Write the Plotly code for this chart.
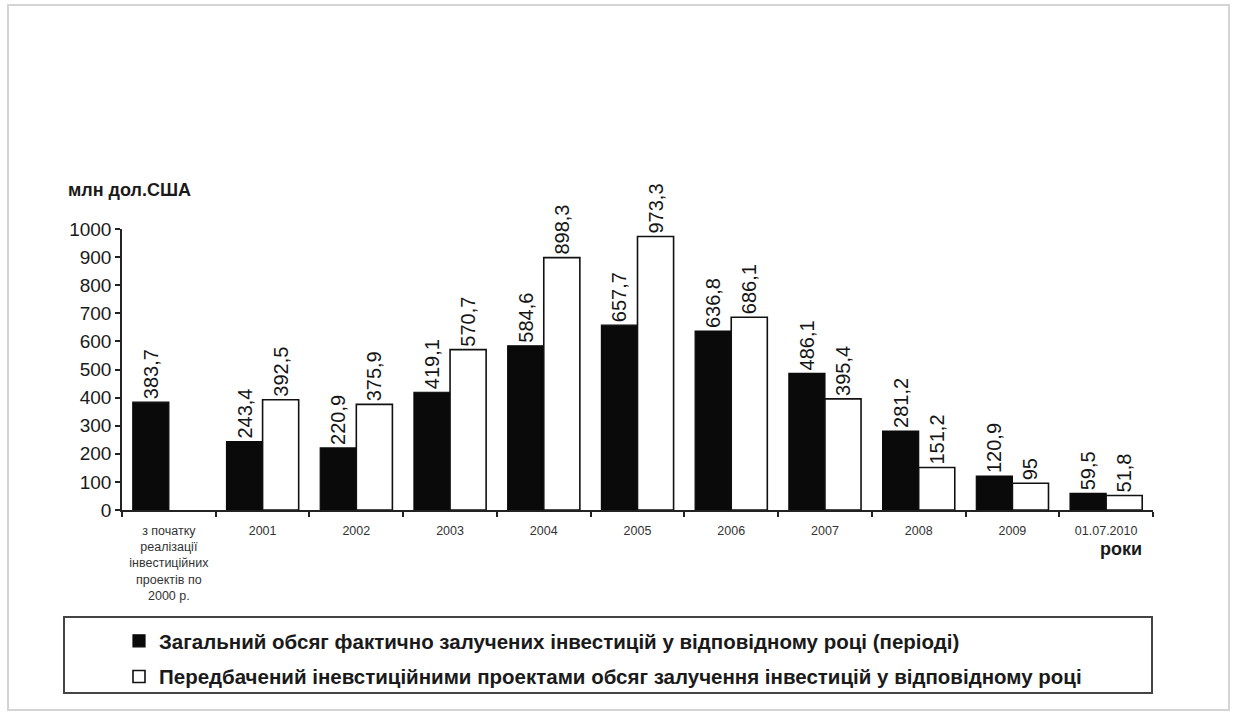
import plotly.graph_objects as go

# Categories (x axis) and the two series, mln USD
categories = [
    "з початку<br>реалізації<br>інвестиційних<br>проектів по<br>2000 р.",
    "2001", "2002", "2003", "2004", "2005", "2006", "2007", "2008", "2009", "01.07.2010",
]
actual = [383.7, 243.4, 220.9, 419.1, 584.6, 657.7, 636.8, 486.1, 281.2, 120.9, 59.5]
planned = [None, 392.5, 375.9, 570.7, 898.3, 973.3, 686.1, 395.4, 151.2, 95, 51.8]
y_ticks = list(range(0, 1001, 100))

name_actual = "Загальний обсяг фактично залучених інвестицій у відповідному році (періоді)"
name_planned = "Передбачений іневстиційними проектами обсяг залучення інвестицій у відповідному році"


def fmt(v):
    # Ukrainian decimal comma
    return "" if v is None else f"{v:g}".replace(".", ",")


W, H = 1235, 713
L, R, T, B = 122, 82, 229, 203
PW, PH = W - L - R, H - T - B


def px_x(x):
    return (x - L) / PW


def px_y(y):
    return (H - B - y) / PH


FONT = "Liberation Sans, Arial, sans-serif"

fig = go.Figure()
fig.add_trace(go.Bar(
    x=categories, y=actual, name=name_actual, legendgroup="a",
    marker=dict(color="#0a0a0a", line=dict(color="#0a0a0a", width=1.2)),
    text=[fmt(v) for v in actual], textposition="outside", textangle=-90,
    textfont=dict(family=FONT, size=20, color="#151515"),
    cliponaxis=False, constraintext="none",
))
fig.add_trace(go.Bar(
    x=categories, y=planned, name=name_planned, legendgroup="b",
    marker=dict(color="#ffffff", line=dict(color="#111111", width=1.6)),
    text=[fmt(v) for v in planned], textposition="outside", textangle=-90,
    textfont=dict(family=FONT, size=20, color="#151515"),
    cliponaxis=False, constraintext="none",
))

fig.update_layout(
    width=W, height=H,
    margin=dict(l=L, r=R, t=T, b=B),
    paper_bgcolor="white", plot_bgcolor="white",
    barmode="group", bargap=0.23, bargroupgap=0,
    font=dict(family=FONT, color="#222"),
    showlegend=True,
    legend=dict(
        x=px_x(119), y=px_y(621), xanchor="left", yanchor="top",
        bgcolor="rgba(0,0,0,0)", borderwidth=0,
        font=dict(family=FONT, size=20.5, color="#1a1a1a", weight="bold"),
        tracegroupgap=6, itemwidth=30,
    ),
    xaxis=dict(
        type="category", showline=True, linecolor="#222", linewidth=1.5,
        ticks="outside", tickson="boundaries", ticklen=5, tickcolor="#222", tickwidth=1.5,
        tickfont=dict(family=FONT, size=12.5, color="#333"),
        ticklabelstandoff=8,
        showgrid=False, zeroline=False, tickangle=0,
    ),
    yaxis=dict(
        range=[0, 1000], tickvals=y_ticks, showline=True, linecolor="#222", linewidth=1.5,
        ticks="outside", ticklen=5, tickcolor="#222", tickwidth=1.5,
        tickfont=dict(family=FONT, size=19, color="#1a1a1a"),
        showgrid=False, zeroline=False,
    ),
    annotations=[
        dict(text="<b>млн дол.США</b>", xref="paper", yref="paper",
             x=px_x(66), y=px_y(190), xanchor="left", yanchor="middle",
             showarrow=False, font=dict(family=FONT, size=18, color="#1a1a1a")),
        dict(text="<b>роки</b>", xref="paper", yref="paper",
             x=px_x(1144), y=px_y(549), xanchor="right", yanchor="middle",
             showarrow=False, font=dict(family=FONT, size=18, color="#1a1a1a")),
    ],
    shapes=[
        # legend frame
        dict(type="rect", xref="paper", yref="paper",
             x0=px_x(64), x1=px_x(1152), y0=px_y(617), y1=px_y(693),
             line=dict(color="#444", width=2), fillcolor="rgba(0,0,0,0)"),
        # outer page frame
        dict(type="rect", xref="paper", yref="paper",
             x0=px_x(8), x1=px_x(1229), y0=px_y(5), y1=px_y(710),
             line=dict(color="#d4d4d4", width=2), fillcolor="rgba(0,0,0,0)"),
    ],
)

fig.write_html("out.html")
